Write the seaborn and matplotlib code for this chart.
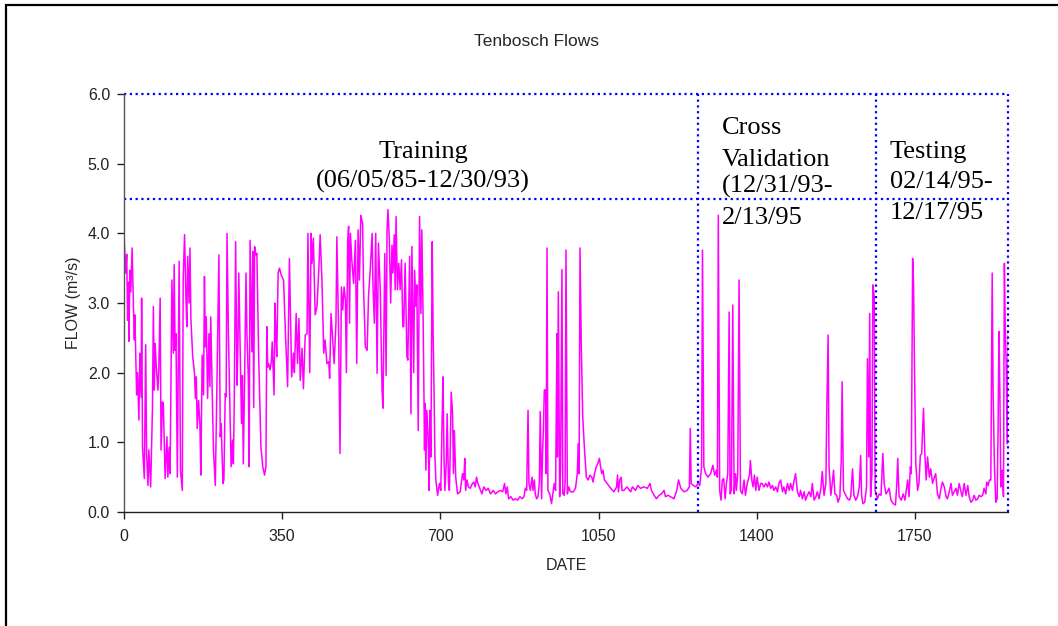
import matplotlib
matplotlib.use("Agg")
import matplotlib.pyplot as plt
import seaborn as sns
import pandas as pd
from matplotlib.patches import Rectangle
from matplotlib.ticker import FormatStrFormatter

# flow record (day index, m3/s)
day = [
    0, 4, 6, 8, 10, 11, 13, 15, 18, 21,
    23, 24, 28, 30, 33, 35, 38, 39, 41, 45,
    48, 50, 53, 55, 59, 63, 65, 67, 69, 71,
    75, 77, 80, 82, 85, 87, 91, 95, 97, 100,
    102, 106, 109, 111, 113, 115, 118, 122, 125, 129,
    131, 134, 137, 139, 141, 144, 146, 148, 152, 156,
    158, 160, 162, 165, 168, 170, 173, 176, 178, 180,
    182, 185, 188, 190, 192, 195, 198, 202, 205, 210,
    213, 215, 219, 221, 224, 226, 228, 231, 235, 237,
    240, 242, 244, 247, 250, 252, 254, 257, 260, 262,
    264, 267, 270, 272, 275, 277, 279, 283, 285, 287,
    289, 292, 294, 298, 303, 307, 311, 314, 316, 318,
    320, 323, 326, 328, 331, 332, 334, 336, 338, 341,
    344, 348, 353, 357, 362, 366, 371, 375, 377, 381,
    384, 387, 390, 394, 397, 401, 405, 407, 411, 414,
    416, 419, 423, 427, 431, 434, 438, 442, 445, 449,
    453, 455, 458, 461, 465, 469, 471, 475, 478, 481,
    484, 487, 490, 492, 495, 497, 499, 501, 504, 508,
    512, 515, 518, 521, 524, 528, 530, 534, 538, 541,
    545, 549, 551, 554, 557, 560, 563, 567, 571, 573,
    577, 580, 582, 584, 587, 590, 593, 595, 598, 600,
    602, 605, 608, 611, 614, 617, 619, 622, 626, 628,
    632, 635, 637, 641, 643, 646, 648, 651, 654, 657,
    659, 662, 665, 666, 668, 670, 673, 675, 677, 679,
    682, 684, 686, 688, 690, 694, 698, 701, 704, 706,
    708, 710, 713, 715, 718, 720, 722, 724, 727, 729,
    731, 734, 738, 744, 749, 752, 754, 756, 759, 762,
    766, 771, 774, 777, 780, 783, 789, 792, 796, 801,
    806, 811, 817, 822, 827, 833, 838, 842, 845, 848,
    851, 856, 861, 866, 871, 876, 881, 885, 888, 891,
    894, 896, 899, 903, 905, 908, 910, 913, 916, 919,
    921, 924, 926, 928, 930, 933, 934, 936, 938, 942,
    946, 950, 952, 955, 958, 959, 961, 964, 966, 969,
    971, 974, 976, 978, 981, 984, 988, 994, 999, 1003,
    1005, 1007, 1009, 1012, 1015, 1019, 1023, 1027, 1031, 1035,
    1038, 1041, 1045, 1048, 1052, 1054, 1057, 1060, 1063, 1069,
    1077, 1084, 1090, 1092, 1094, 1097, 1100, 1102, 1106, 1113,
    1121, 1125, 1132, 1137, 1143, 1150, 1158, 1164, 1167, 1173,
    1178, 1184, 1189, 1195, 1198, 1204, 1209, 1217, 1223, 1227,
    1232, 1239, 1246, 1251, 1253, 1255, 1260, 1265, 1270, 1274,
    1278, 1280, 1283, 1287, 1292, 1298, 1303, 1307, 1311, 1313,
    1315, 1318, 1321, 1324, 1327, 1330, 1333, 1336, 1339, 1341,
    1344, 1347, 1350, 1353, 1355, 1358, 1361, 1364, 1368, 1372,
    1375, 1379, 1384, 1386, 1389, 1392, 1395, 1398, 1401, 1405,
    1409, 1412, 1416, 1420, 1424, 1427, 1431, 1435, 1438, 1442,
    1446, 1449, 1453, 1457, 1460, 1464, 1468, 1472, 1475, 1479,
    1483, 1486, 1490, 1494, 1497, 1501, 1505, 1508, 1512, 1516,
    1520, 1523, 1527, 1531, 1534, 1538, 1542, 1545, 1549, 1553,
    1555, 1558, 1560, 1564, 1567, 1570, 1573, 1577, 1580, 1584,
    1587, 1589, 1592, 1597, 1601, 1605, 1608, 1612, 1615, 1619,
    1623, 1627, 1630, 1632, 1635, 1639, 1643, 1645, 1648, 1650,
    1652, 1655, 1657, 1660, 1662, 1666, 1667, 1671, 1675, 1679,
    1682, 1686, 1689, 1693, 1697, 1702, 1707, 1710, 1712, 1715,
    1720, 1724, 1728, 1731, 1734, 1737, 1740, 1742, 1745, 1747,
    1749, 1752, 1756, 1759, 1762, 1765, 1769, 1772, 1775, 1778,
    1782, 1785, 1789, 1793, 1796, 1800, 1804, 1807, 1811, 1815,
    1819, 1822, 1826, 1830, 1833, 1837, 1841, 1844, 1848, 1852,
    1855, 1859, 1863, 1867, 1870, 1874, 1878, 1881, 1885, 1889,
    1892, 1896, 1900, 1903, 1907, 1909, 1912, 1915, 1918, 1921,
    1923, 1926, 1929, 1932, 1934, 1936, 1938, 1940, 1943, 1946,
    1948, 1950, 1952, 1954, 1957,
]
flow = [
    3.95, 3.43, 3.70, 2.75, 3.30, 2.45, 3.47, 3.16, 3.79, 2.90,
    2.47, 2.83, 1.68, 2.00, 1.32, 2.28, 1.65, 3.07, 0.93, 0.48,
    2.40, 0.84, 0.38, 0.89, 0.36, 1.50, 2.95, 1.75, 2.42, 2.13,
    1.75, 2.04, 3.07, 0.89, 1.58, 1.56, 0.48, 1.08, 0.50, 0.93,
    0.55, 3.33, 2.28, 3.55, 2.32, 2.56, 0.50, 3.60, 0.60, 0.31,
    3.35, 3.98, 3.09, 2.66, 3.67, 3.00, 3.79, 2.78, 2.23, 1.99,
    1.63, 1.94, 1.20, 1.60, 1.25, 0.53, 2.25, 1.68, 3.38, 2.37,
    2.80, 1.63, 2.56, 1.80, 2.80, 1.77, 0.89, 0.38, 1.56, 3.69,
    1.08, 1.27, 0.41, 0.46, 1.70, 1.65, 4.00, 2.56, 1.27, 0.65,
    1.03, 0.69, 1.60, 3.88, 1.82, 2.37, 3.43, 2.37, 1.27, 1.96,
    0.69, 1.99, 3.43, 2.56, 1.94, 0.65, 3.90, 2.30, 3.74, 1.50,
    3.81, 3.69, 3.71, 2.23, 0.93, 0.65, 0.53, 0.65, 2.66, 2.08,
    2.13, 2.04, 2.16, 2.44, 1.84, 1.68, 3.00, 2.56, 2.23, 3.43,
    3.50, 3.40, 3.33, 2.61, 1.80, 3.64, 1.94, 2.28, 2.00, 2.85,
    2.13, 2.78, 1.89, 2.35, 1.77, 2.54, 2.56, 4.00, 2.00, 4.00,
    3.57, 3.93, 2.83, 2.95, 3.47, 3.98, 3.33, 2.28, 2.47, 2.13,
    2.16, 1.92, 2.85, 2.56, 2.13, 2.71, 3.95, 2.52, 0.84, 3.23,
    2.90, 3.23, 3.04, 2.00, 3.90, 4.10, 2.71, 4.00, 3.62, 3.28,
    3.90, 2.13, 4.05, 3.33, 4.26, 4.14, 3.23, 2.37, 2.32, 3.09,
    3.50, 4.00, 3.23, 2.71, 4.00, 1.99, 3.86, 3.19, 1.75, 1.49,
    3.71, 1.96, 4.05, 4.34, 3.93, 3.00, 3.83, 3.43, 3.98, 3.19,
    4.24, 3.19, 3.57, 3.19, 3.62, 2.66, 2.66, 3.57, 2.23, 2.18,
    3.67, 1.41, 3.81, 2.00, 3.47, 2.95, 3.26, 1.17, 4.24, 2.85,
    4.05, 2.71, 0.89, 1.56, 0.60, 1.46, 1.08, 0.31, 1.46, 0.79,
    3.88, 2.56, 1.75, 0.79, 0.46, 0.24, 0.41, 0.31, 1.37, 1.94,
    0.79, 0.31, 0.69, 1.41, 0.41, 0.31, 0.93, 1.72, 1.41, 0.55,
    1.17, 0.50, 0.26, 0.29, 0.55, 0.46, 0.77, 0.31, 0.46, 0.36,
    0.34, 0.41, 0.43, 0.36, 0.50, 0.41, 0.31, 0.26, 0.36, 0.31,
    0.34, 0.26, 0.31, 0.26, 0.29, 0.31, 0.29, 0.41, 0.26, 0.36,
    0.19, 0.22, 0.17, 0.19, 0.17, 0.22, 0.19, 0.22, 0.34, 0.31,
    1.46, 0.41, 0.31, 0.50, 0.31, 0.46, 0.26, 0.19, 0.22, 0.41,
    1.44, 0.19, 0.84, 1.17, 1.75, 1.75, 0.55, 3.79, 0.31, 0.26,
    0.12, 0.31, 0.41, 0.31, 2.56, 0.79, 3.16, 0.22, 0.60, 3.48,
    0.26, 0.24, 0.41, 3.76, 0.26, 0.36, 0.29, 0.29, 0.34, 0.55,
    0.98, 0.55, 3.79, 2.32, 1.37, 0.89, 0.50, 0.46, 0.53, 0.50,
    0.43, 0.55, 0.65, 0.69, 0.77, 0.67, 0.55, 0.60, 0.46, 0.41,
    0.34, 0.29, 0.36, 0.53, 0.29, 0.46, 0.50, 0.31, 0.31, 0.36,
    0.29, 0.36, 0.31, 0.38, 0.34, 0.36, 0.34, 0.41, 0.31, 0.24,
    0.19, 0.24, 0.26, 0.31, 0.22, 0.24, 0.22, 0.19, 0.31, 0.46,
    0.34, 0.29, 0.31, 0.36, 1.20, 0.41, 0.38, 0.36, 0.41, 0.38,
    0.65, 3.76, 0.65, 0.55, 0.50, 0.55, 0.67, 0.53, 0.60, 0.50,
    4.26, 0.31, 0.17, 0.46, 0.48, 0.19, 0.41, 0.55, 2.87, 0.26,
    0.31, 2.97, 0.26, 0.55, 0.31, 0.55, 3.33, 0.31, 0.26, 0.46,
    0.24, 0.41, 0.53, 0.74, 0.46, 0.36, 0.53, 0.31, 0.50, 0.31,
    0.41, 0.41, 0.36, 0.41, 0.36, 0.43, 0.34, 0.38, 0.31, 0.36,
    0.29, 0.41, 0.46, 0.29, 0.36, 0.26, 0.41, 0.31, 0.41, 0.31,
    0.46, 0.55, 0.29, 0.22, 0.31, 0.19, 0.29, 0.17, 0.24, 0.29,
    0.22, 0.41, 0.17, 0.22, 0.29, 0.19, 0.34, 0.58, 0.24, 0.41,
    1.46, 2.54, 0.65, 0.24, 0.41, 0.60, 0.26, 0.24, 0.14, 0.22,
    0.74, 1.87, 0.31, 0.24, 0.19, 0.17, 0.22, 0.62, 0.24, 0.17,
    0.22, 0.36, 0.81, 0.24, 0.12, 0.14, 0.36, 2.20, 0.79, 2.85,
    0.22, 0.55, 3.26, 3.09, 0.31, 0.22, 0.19, 0.26, 0.24, 0.84,
    0.41, 0.26, 0.29, 0.34, 0.17, 0.12, 0.10, 0.41, 0.77, 0.22,
    0.17, 0.26, 0.17, 0.31, 0.46, 0.22, 0.65, 0.55, 3.64, 3.28,
    2.13, 0.69, 0.31, 0.41, 0.81, 0.84, 1.49, 0.84, 0.46, 0.79,
    0.50, 0.62, 0.41, 0.50, 0.55, 0.26, 0.19, 0.31, 0.43, 0.36,
    0.22, 0.19, 0.29, 0.41, 0.24, 0.29, 0.34, 0.24, 0.41, 0.29,
    0.22, 0.41, 0.24, 0.38, 0.22, 0.14, 0.17, 0.24, 0.17, 0.19,
    0.24, 0.22, 0.24, 0.34, 0.26, 0.43, 0.38, 0.46, 0.46, 3.43,
    1.75, 0.65, 0.14, 0.19, 1.17, 2.59, 1.75, 0.36, 0.60, 0.22,
    3.57, 2.61, 2.13, 0.98, 2.61,
]
assert len(day) == len(flow)

# data-split boundaries (days) and the annotation band
cv_start = 1270
test_start = 1664
day_max = 1956
band_low = 4.5
band_high = 6.0

x_ticks = [0, 350, 700, 1050, 1400, 1750]
y_ticks = [0.0, 1.0, 2.0, 3.0, 4.0, 5.0, 6.0]

df = pd.DataFrame({"DATE": day, "FLOW": flow})

sns.set_theme(style="white")
plt.rcParams["font.family"] = ["Liberation Sans", "DejaVu Sans"]

W, H = 1058, 626
fig = plt.figure(figsize=(W / 100, H / 100), dpi=100)
ax = fig.add_axes([124 / W, 1 - 512 / H, (1008 - 124) / W, (512 - 94) / H])

sns.lineplot(data=df, x="DATE", y="FLOW", ax=ax, color="#ff00ff",
             linewidth=1.1, estimator=None, sort=False)

# dotted blue boxes marking training / validation / testing
dot = dict(color="#0000ff", linewidth=1.6, linestyle=(0, (1, 1.6)), clip_on=False)
ax.hlines([band_low, band_high], 0, day_max, **dot)
ax.vlines([cv_start, test_start, day_max], 0, band_high, **dot)

serif = dict(family="Liberation Serif", fontsize=19, color="black")
ax.text(662, 5.08, "Training", ha="center", va="baseline", **serif)
ax.text(662, 4.65, "(06/05/85-12/30/93)", ha="center", va="baseline", **serif)
for txt, yy in zip(["Cross", "Validation", "(12/31/93-", "2/13/95"],
                   [5.42, 4.97, 4.59, 4.13]):
    ax.text(1322, yy, txt, ha="left", va="baseline", **serif)
for txt, yy in zip(["Testing", "02/14/95-", "12/17/95"], [5.08, 4.65, 4.20]):
    ax.text(1695, yy, txt, ha="left", va="baseline", **serif)

ax.set_xlim(0, day_max)
ax.set_ylim(0, band_high)
ax.set_xticks(x_ticks)
ax.set_yticks(y_ticks)
ax.yaxis.set_major_formatter(FormatStrFormatter("%.1f"))
ax.tick_params(axis="both", direction="out", length=5, width=1,
               labelsize=11.5, colors="#222222", pad=5, left=True, bottom=True)
ax.tick_params(axis="x", pad=7)

for side in ["top", "right"]:
    ax.spines[side].set_visible(False)
ax.spines["left"].set_color("#555555")
ax.spines["bottom"].set_color("#222222")
ax.spines["left"].set_linewidth(1.0)
ax.spines["bottom"].set_linewidth(1.0)

ax.set_xlabel("DATE", fontsize=11.5, labelpad=10)
ax.set_ylabel("FLOW (m³/s)", fontsize=11.5, labelpad=5)
ax.grid(False)

fig.text(537 / W, 1 - 41 / H, "Tenbosch Flows", ha="center", va="center",
         fontsize=12.5)

# chart-area frame, running off the right and bottom of the image
fig.patches.append(Rectangle((6 / W, -0.5), 2, 0.992 + 0.5, fill=False,
                             edgecolor="black", linewidth=1.6,
                             transform=fig.transFigure, figure=fig))

fig.savefig("out.png", dpi=100, facecolor="white")
